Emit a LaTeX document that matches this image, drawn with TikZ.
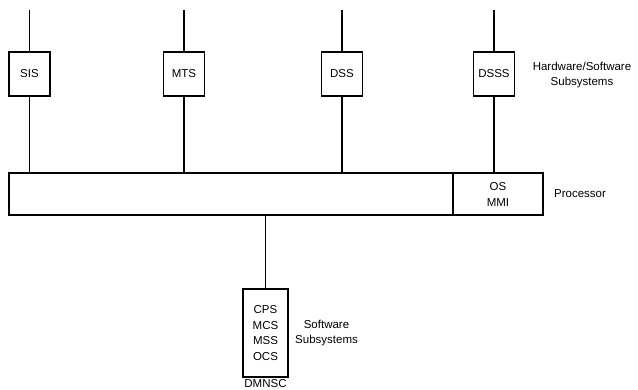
\documentclass[tikz,border=0pt]{standalone}
\usepackage{fontspec}
\setmainfont{Liberation Sans}
\usepackage{tikz}
\usetikzlibrary{positioning,calc}

\begin{document}
\begin{tikzpicture}[x=1pt, y=-1pt, line width=1.2pt, font=\fontsize{11.5}{13}\selectfont,
  subbox/.style={draw, minimum width=41pt, minimum height=44pt, inner sep=0pt},
  lbl/.style={align=center, inner sep=0pt}]
\useasboundingbox (0,0) rectangle (638,390);
% processor bus
\node[draw, minimum width=444pt, minimum height=42pt, inner sep=0pt] (bus) at (231,194) {};
\node[draw, minimum width=90pt, minimum height=42pt, inner sep=0pt, align=center,
  font=\fontsize{11.5}{16}\selectfont] (osmmi) at (498,194) {OS\\MMI};
\node[lbl] (proc) at (580,194) {Processor};
% hardware/software subsystems
\foreach \name/\x in {SIS/29.5, MTS/184, DSS/342, DSSS/494}{
  \node[subbox] (\name) at (\x,74) {\name};
  \coordinate (\name top) at (\x,10);
  \draw (\name top) -- (\name.north);
}
\draw (SIS.south) -- (SIS.south |- bus.north);
\draw (MTS.south) -- (MTS.south |- bus.north);
\draw (DSS.south) -- (DSS.south |- bus.north);
\draw (DSSS.south) -- (DSSS.south |- osmmi.north);
\node[lbl] (hwsw) at (582,75) {Hardware/Software\\[2pt]Subsystems};
% software subsystems
\node[draw, minimum width=45pt, minimum height=88pt, inner sep=0pt, align=center,
  font=\fontsize{11.5}{15.5}\selectfont] (omnsc) at (265.5,333) {CPS\\MCS\\MSS\\OCS};
\draw (omnsc.north) -- (omnsc.north |- bus.south);
\node[lbl, below=1pt of omnsc] (omnsclbl) {DMNSC};
\node[lbl, right=6pt of omnsc] (swsub) {Software\\[2pt]Subsystems};
\end{tikzpicture}
\end{document}
